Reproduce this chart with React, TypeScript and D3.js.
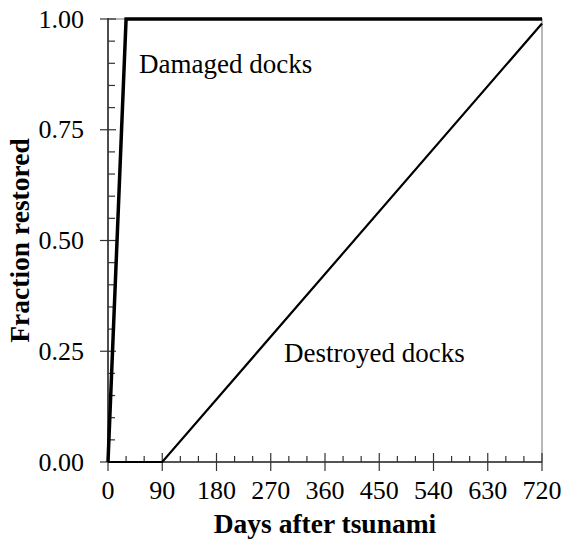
import React from "react";
import * as d3 from "d3";

const xDomain = [0, 720];
const yDomain = [0, 1];
const xMajorTicks = [0, 90, 180, 270, 360, 450, 540, 630, 720];
const xMinorTicks = [30, 60, 120, 150, 210, 240, 300, 330, 390, 420, 480, 510, 570, 600, 660, 690];
const yMajorTicks = [0, 0.25, 0.5, 0.75, 1.0];
const yMinorTicks = [0.05, 0.1, 0.15, 0.2, 0.3, 0.35, 0.4, 0.45, 0.55, 0.6, 0.65, 0.7, 0.8, 0.85, 0.9, 0.95];

const damagedDays = [0, 30, 720];
const damagedFrac = [0, 1, 1];
const destroyedDays = [0, 90, 720];
const destroyedFrac = [0, 0, 0.99];

const xTitle = "Days after tsunami";
const yTitle = "Fraction restored";
const damagedLabel = "Damaged docks";
const destroyedLabel = "Destroyed docks";

export default function App() {
  const W = 563, H = 544;
  const L = 108, R = 542, T = 19, B = 462;
  const x = d3.scaleLinear().domain(xDomain).range([L, R]);
  const y = d3.scaleLinear().domain(yDomain).range([B, T]);
  const line = d3.line<[number, number]>().x(d => x(d[0])).y(d => y(d[1]));
  const dmg = damagedDays.map((d, i) => [d, damagedFrac[i]] as [number, number]);
  const dst = destroyedDays.map((d, i) => [d, destroyedFrac[i]] as [number, number]);
  const font = "'Liberation Serif', 'Times New Roman', serif";
  const axisColor = "#333";
  return (
    <svg width={W} height={H} style={{ position: "absolute", left: 0, top: 0 }} fontFamily={font}>
      <rect x={0} y={0} width={W} height={H} fill="#fff" />
      <rect x={L} y={T} width={R - L} height={B - T} fill="none" stroke="#888" strokeWidth={1.2} />
      {xMinorTicks.map(t => (
        <line key={"xm" + t} x1={x(t)} x2={x(t)} y1={B} y2={B - 6} stroke={axisColor} strokeWidth={1.2} />
      ))}
      {xMajorTicks.map(t => (
        <line key={"xM" + t} x1={x(t)} x2={x(t)} y1={B - 9} y2={B + 9} stroke={axisColor} strokeWidth={1.2} />
      ))}
      {yMinorTicks.map(t => (
        <line key={"ym" + t} x1={L} x2={L + 7} y1={y(t)} y2={y(t)} stroke={axisColor} strokeWidth={1.2} />
      ))}
      {yMajorTicks.map(t => (
        <line key={"yM" + t} x1={L - 8} x2={L + 8} y1={y(t)} y2={y(t)} stroke={axisColor} strokeWidth={1.2} />
      ))}
      <line x1={L} x2={L} y1={T - 1} y2={B} stroke={axisColor} strokeWidth={1.6} />
      <line x1={L} x2={R} y1={B} y2={B} stroke={axisColor} strokeWidth={1.6} />
      <path d={line(dst) || ""} fill="none" stroke="#000" strokeWidth={2.2} />
      <path d={line(dmg) || ""} fill="none" stroke="#000" strokeWidth={3.5} />
      {xMajorTicks.map(t => (
        <text key={"xl" + t} x={x(t)} y={499} fontSize={26} textAnchor="middle">{t}</text>
      ))}
      {yMajorTicks.map(t => (
        <text key={"yl" + t} x={84} y={y(t)} dy="0.33em" fontSize={26} textAnchor="end">{t.toFixed(2)}</text>
      ))}
      <text x={(L + R) / 2} y={533} fontSize={27.5} fontWeight="bold" textAnchor="middle">{xTitle}</text>
      <text transform={`translate(29,${(T + B) / 2}) rotate(-90)`} fontSize={27.5} fontWeight="bold" textAnchor="middle">{yTitle}</text>
      <text x={139} y={73} fontSize={27}>{damagedLabel}</text>
      <text x={284} y={362} fontSize={27}>{destroyedLabel}</text>
    </svg>
  );
}
